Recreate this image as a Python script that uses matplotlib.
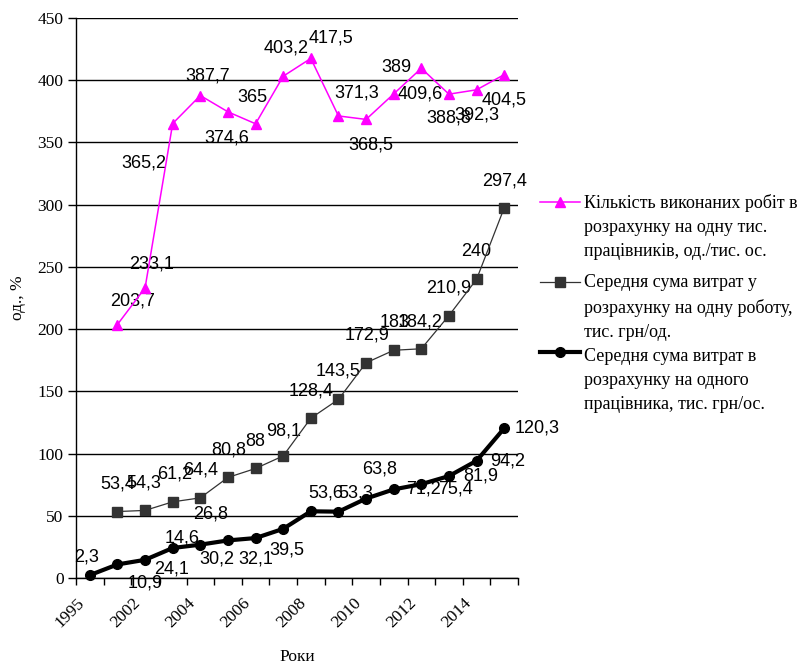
import numpy as np
import matplotlib
matplotlib.use("Agg")
import matplotlib.pyplot as plt
from matplotlib.lines import Line2D

# ---- data -------------------------------------------------------------
years = ["1995", "2001", "2002", "2003", "2004", "2005", "2006", "2007",
         "2008", "2009", "2010", "2011", "2012", "2013", "2014", "2015"]

works_per_thousand = [np.nan, 203.7, 233.1, 365.2, 387.7, 374.6, 365, 403.2,
                      417.5, 371.3, 368.5, 389, 409.6, 388.8, 392.3, 404.5]
cost_per_work = [np.nan, 53.4, 54.3, 61.2, 64.4, 80.8, 88, 98.1,
                 128.4, 143.5, 172.9, 183, 184.2, 210.9, 240, 297.4]
cost_per_worker = [2.3, 10.9, 14.6, 24.1, 26.8, 30.2, 32.1, 39.5,
                   53.6, 53.3, 63.8, 71.2, 75.4, 81.9, 94.2, 120.3]

legend_labels = [
    "Кількість виконаних робіт в\nрозрахунку на одну тис.\nпрацівників, од./тис. ос.",
    "Середня сума витрат у\nрозрахунку на одну роботу,\nтис. грн/од.",
    "Середня сума витрат в\nрозрахунку на одного\nпрацівника, тис. грн/ос.",
]

# label offsets in pixels (dx right, dy down)
off_works = [None, (15, -24), (7, -24), (-29, 39), (7, -20), (-1, 26), (-3, -26),
             (3, -28), (20, -20), (18, -23), (5, 26), (3, -26), (-1, 26),
             (0, 24), (0, 25), (0, 25)]
off_cost_work = [None, (0, -28), (-1, -27), (2, -28), (0, -28), (1, -27), (0, -27),
                 (0, -25), (0, -27), (0, -28), (1, -28), (1, -28), (-1, -27),
                 (0, -28), (0, -28), (0, -27)]
off_cost_worker = [(-3, -18), (28, 19), (37, -22), (-1, 21), (10, -31), (-11, 19),
                   (0, 21), (4, 21), (15, -18), (17, -19), (14, -30), (30, 0),
                   (34, 5), (32, 0), (31, 0), (33, 0)]

SERIF = "Liberation Serif"
SANS = "Liberation Sans"

W, H = 809, 664
fig = plt.figure(figsize=(W / 100, H / 100), dpi=100)
fig.patch.set_facecolor("white")
ax = fig.add_axes([76 / W, 1 - 578 / H, (518 - 76) / W, (578 - 18) / H])

x = np.arange(len(years))

styles = [
    dict(color="#FF00FF", lw=1.1, marker="^", ms=7.5, mfc="#FF00FF", mec="#FF00FF"),
    dict(color="#333333", lw=0.9, marker="s", ms=6.5, mfc="#333333", mec="#333333"),
    dict(color="#000000", lw=3.0, marker="o", ms=7, mfc="#000000", mec="#000000"),
]
series = [works_per_thousand, cost_per_work, cost_per_worker]
offsets = [off_works, off_cost_work, off_cost_worker]

for vals, st in zip(series, styles):
    ax.plot(x, vals, zorder=3, clip_on=False, **st)

for vals, offs in zip(series, offsets):
    for xi, v, o in zip(x, vals, offs):
        if np.isnan(v):
            continue
        txt = f"{v:g}".replace(".", ",")
        ax.annotate(txt, (xi, v), xytext=(o[0], -o[1]), textcoords="offset pixels",
                    ha="center", va="center", fontsize=13, family=SANS,
                    color="black", zorder=2, annotation_clip=False)

# axes & grid
ax.set_ylim(0, 450)
ax.set_yticks(np.arange(0, 451, 50))
ax.set_xlim(-0.5, len(years) - 0.5)
ax.yaxis.grid(True, color="black", lw=1.0, zorder=1)
ax.set_axisbelow(True)
for s in ("top", "right"):
    ax.spines[s].set_visible(False)
for s in ("left", "bottom"):
    ax.spines[s].set_color("black")
    ax.spines[s].set_linewidth(1.0)

ax.tick_params(axis="y", direction="out", length=6, width=1, labelsize=12.5, pad=3)
for lab in ax.get_yticklabels():
    lab.set_family(SERIF)

# year labels for every other category, nudged so the text ends just left of
# the category centre
ax.set_xticks(x[::2] - 0.47)
ax.set_xticklabels(years[::2], rotation=45, ha="right", rotation_mode="anchor",
                   family=SERIF, fontsize=12.5)
ax.set_xticks(np.arange(-0.5, len(years)), minor=True)
ax.tick_params(axis="x", which="major", length=0, pad=12)
ax.tick_params(axis="x", which="minor", direction="out", length=5, width=1)

ax.set_ylabel("од., %", family=SERIF, fontsize=12.5, labelpad=8)
ax.set_xlabel("Роки", family=SERIF, fontsize=12.5, labelpad=13.5)


def fx(px):
    return px / W


def fy(py):
    return 1 - py / H


# legend drawn at the right of the plot
handle_y = [202, 282, 352]
text_y = [203, 283, 357]
for hy, ty, st, label in zip(handle_y, text_y, styles, legend_labels):
    ln = Line2D([fx(540), fx(580)], [fy(hy), fy(hy)], transform=fig.transFigure,
                color=st["color"], lw=st["lw"])
    mk = Line2D([fx(560)], [fy(hy)], transform=fig.transFigure, linestyle="none",
                marker=st["marker"], ms=st["ms"], mfc=st["mfc"], mec=st["mec"])
    fig.add_artist(ln)
    fig.add_artist(mk)
    fig.text(fx(584), fy(ty - 9), label, family=SERIF, fontsize=13,
             ha="left", va="top", linespacing=1.55)

fig.savefig("out.png", dpi=100)
